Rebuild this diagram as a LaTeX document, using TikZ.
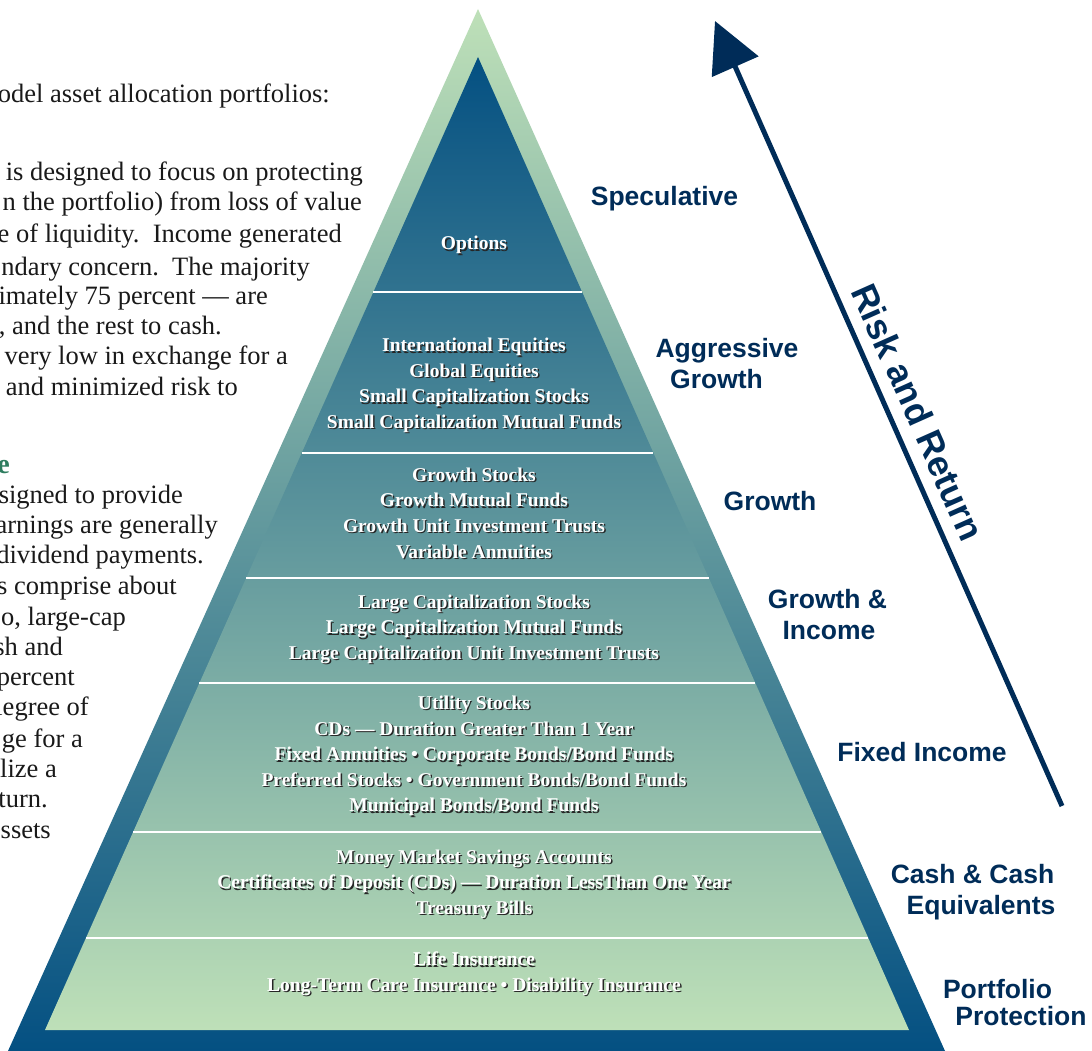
\documentclass[tikz,border=0pt]{standalone}
\usepackage{fontspec}
\setmainfont{Liberation Serif}
\newfontfamily\catfont{Liberation Sans}
\usetikzlibrary{arrows.meta, calc, positioning}
\definecolor{cNavy}{RGB}{0,44,88}
\definecolor{cLight}{RGB}{190,224,184}
\definecolor{cDeep}{RGB}{4,80,130}
\definecolor{cMidIn}{RGB}{90,130,160}
\definecolor{cMidOut}{RGB}{100,145,162}
\definecolor{cHead}{RGB}{46,125,95}
\newcommand{\tierbox}[3]{%
  \node[tiershade] at (475.4,#2+1.4) {#3};
  \node[tierlbl] (#1) at (474,#2) {#3};}

\begin{document}
\begin{tikzpicture}[x=1pt, y=-1pt,
    bodyln/.style={anchor=base east, inner sep=0pt, text=black!90, font=\fontsize{26.5}{30}\selectfont},
    tierlbl/.style={align=center, inner sep=0pt, text=white, font=\bfseries\fontsize{19.5}{25.6}\selectfont},
    tiershade/.style={tierlbl, text=black!85},
    cat/.style={anchor=base, inner sep=0pt, text=cNavy, font=\catfont\bfseries\fontsize{26.5}{30}\selectfont},
    sepln/.style={draw=white, line width=2.5pt},
    rr/.style={draw=cNavy, line width=5pt, -{Triangle[length=50pt, width=50pt]}}]
    \useasboundingbox (0,0) rectangle (1092,1051);
    % text column, cut at the left edge
    \foreach \yb/\xr/\txt in {103/330/{model asset allocation portfolios:},
        181/363/{is designed to focus on protecting}, 211/362/{n the portfolio) from loss of value},
        243/342/{e of liquidity.\ \ Income generated}, 275/310/{ndary concern.\ \ The majority},
        304/268/{imately 75 percent — are}, 334/222/{, and the rest to cash.},
        364/288/{very low in exchange for a}, 395/238/{and minimized risk to},
        503/183/{signed to provide}, 533/218/{arnings are generally}, 563/204/{dividend payments.},
        594/177/{s comprise about}, 625/126/{o, large-cap}, 655/63/{sh and}, 685/75/{percent},
        715/89/{legree of}, 747/83/{ge for a}, 777/57/{lize a}, 807/48/{turn.}, 838/51/{ssets}}
        \node[bodyln] (ln\yb) at (\xr,\yb) {\txt};
    \node[bodyln, text=cHead, font=\bfseries\fontsize{28}{30}\selectfont] (head) at (10,473) {e};
    % pyramid
    \coordinate (outTop) at (478,9);
    \coordinate (outL) at (8,1051);
    \coordinate (outR) at (945,1051);
    \coordinate (inTop) at (478,57);
    \coordinate (inL) at (45,1030);
    \coordinate (inR) at (909,1030);
    \shade[top color=cLight, middle color=cMidOut, bottom color=cDeep] (outTop) -- (outL) -- (outR) -- cycle;
    \shade[top color=cDeep, middle color=cMidIn, bottom color=cLight] (inTop) -- (inL) -- (inR) -- cycle;
    \foreach \y in {292,453,578,683,832,938}
        \draw[sepln] ($(inTop)!{(\y-57)/973}!(inL)$) -- ($(inTop)!{(\y-57)/973}!(inR)$);
    \tierbox{opt}{245}{Options}
    \tierbox{aggr}{385.5}{International Equities\\Global Equities\\Small Capitalization Stocks\\Small Capitalization Mutual Funds}
    \tierbox{grow}{513}{Growth Stocks\\Growth Mutual Funds\\Growth Unit Investment Trusts\\Variable Annuities}
    \tierbox{grinc}{629}{Large Capitalization Stocks\\Large Capitalization Mutual Funds\\Large Capitalization Unit Investment Trusts}
    \tierbox{fixed}{756}{Utility Stocks\\CDs — Duration Greater Than 1 Year\\Fixed Annuities • Corporate Bonds/Bond Funds\\Preferred Stocks • Government Bonds/Bond Funds\\Municipal Bonds/Bond Funds}
    \tierbox{cash}{884}{Money Market Savings Accounts\\Certificates of Deposit (CDs) — Duration LessThan One Year\\Treasury Bills}
    \tierbox{prot}{974}{Life Insurance\\Long-Term Care Insurance • Disability Insurance}
    % categories
    \node[cat] (cSpec) at (664.5,206) {Speculative};
    \node[cat] (cAggr1) at (727,357) {Aggressive};
    \node[cat] (cAggr2) at (716.5,388) {Growth};
    \node[cat] (cGrow) at (770,510) {Growth};
    \node[cat] (cGrinc1) at (827.5,608) {Growth \&};
    \node[cat] (cGrinc2) at (829,639) {Income};
    \node[cat] (cFixed) at (922,761) {Fixed Income};
    \node[cat] (cCash1) at (972.5,883) {Cash \& Cash};
    \node[cat] (cCash2) at (981,914) {Equivalents};
    \node[cat] (cProt1) at (997.5,998) {Portfolio};
    \node[cat] (cProt2) at (1021,1025) {Protection};
    % risk and return
    \coordinate (rrBottom) at (1062,806);
    \coordinate (rrTop) at (715,21);
    \draw[rr] (rrBottom) -- (rrTop);
    \node[cat, anchor=center, rotate=-66, font=\catfont\bfseries\fontsize{36}{40}\selectfont] (rrLbl) at (918,412) {Risk and Return};
\end{tikzpicture}
\end{document}
